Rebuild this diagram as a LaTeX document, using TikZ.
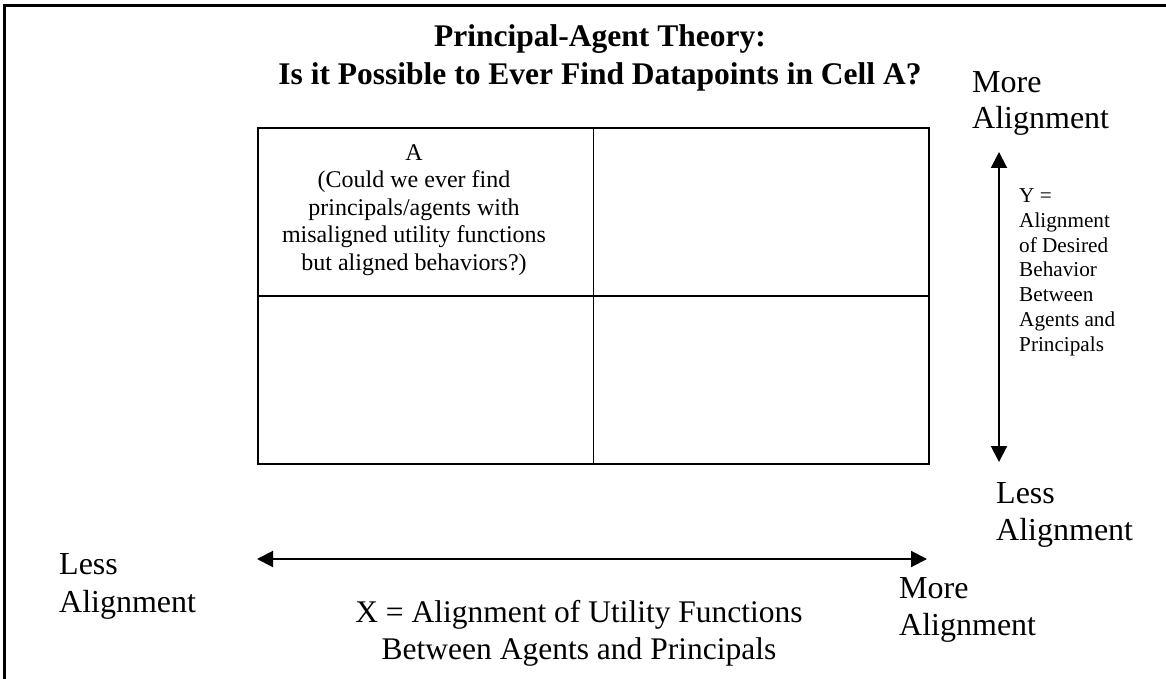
\documentclass[tikz,border=0pt]{standalone}
\usepackage{fontspec}
\setmainfont{Liberation Serif}
\usetikzlibrary{arrows.meta}
\newcommand{\fsz}[2]{\fontsize{#1}{#2}\selectfont}
\begin{document}
\begin{tikzpicture}[x=1pt,y=-1pt,
  cellbox/.style={draw,line width=1.8pt,inner sep=0pt,minimum width=335.5pt,minimum height=168pt,anchor=north west},
  axisarrow/.style={line width=2pt,{Triangle[length=16pt,width=16pt]}-{Triangle[length=16pt,width=16pt]}},
  lbl/.style={inner sep=0pt,align=left,anchor=base west},
  bigfont/.style={font=\fsz{32}{37}},
]
\useasboundingbox (0,0) rectangle (1166,679);
\draw[line width=3pt] (1170,5.5) -- (4,5.5) -- (4,683);

% anchor "base" of a multi-line node = baseline of its last line
\node[font=\bfseries\fsz{31.5}{38},align=center,anchor=base,inner sep=0pt] (title) at (600,85)
  {Principal-Agent Theory:\\Is it Possible to Ever Find Datapoints in Cell A?};

\node[cellbox] (cellA) at (257,127) {};
\node[cellbox] (cellB) at (592.5,127) {};
\node[cellbox] (cellC) at (257,295) {};
\node[cellbox] (cellD) at (592.5,295) {};

\node[font=\fsz{24}{27.5},align=center,anchor=base,inner sep=0pt] (textA) at (414,270)
  {A\\(Could we ever find\\principals/agents with\\misaligned utility functions\\but aligned behaviors?)};

\coordinate (ytop) at (999,152);
\coordinate (ybot) at (999,462);
\draw[axisarrow] (ytop) -- (ybot);
\coordinate (xleft) at (257,559);
\coordinate (xright) at (927,559);
\draw[axisarrow] (xleft) -- (xright);

\node[lbl,font=\fsz{32}{36}] (moreY) at (972,129) {More\\Alignment};
\node[lbl,font=\fsz{21.2}{24.7}] (ylab) at (1019,351)
  {Y =\\Alignment\\of Desired\\Behavior\\Between\\Agents and\\Principals};
\node[lbl,bigfont] (lessY) at (996,540) {Less\\Alignment};
\node[lbl,font=\fsz{32}{38}] (lessX) at (59,612) {Less\\Alignment};
\node[lbl,bigfont] (moreX) at (899,635) {More\\Alignment};
\node[font=\fsz{31.5}{37},align=center,anchor=base,inner sep=0pt] (xlab) at (579,659)
  {X = Alignment of Utility Functions\\Between Agents and Principals};
\end{tikzpicture}
\end{document}
